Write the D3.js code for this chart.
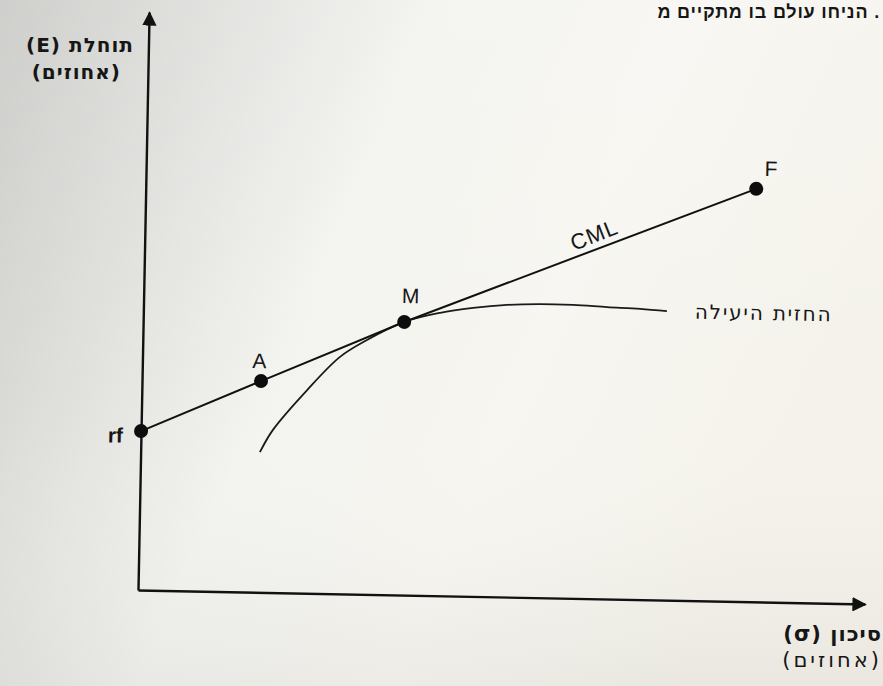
<!DOCTYPE html>
<html>
<head>
<meta charset="utf-8">
<script src="https://cdn.jsdelivr.net/npm/d3@7"></script>
<style>
  html, body { margin: 0; padding: 0; background: #efeeea; }
  svg { display: block; }
  text { font-family: "Liberation Sans", "DejaVu Sans", sans-serif; fill: #161616; }
  text.heb { font-family: "DejaVu Sans", "Liberation Sans", sans-serif; }
</style>
</head>
<body>
<div id="chart"></div>
<script>
// CML chart (capital market line + efficient frontier)
// values, sigma / E in arbitrary percent units

// straight line points: rf, A, M, F
const cmlNames = ["rf", "A", "M", "F"];
const cmlSigma = [0, 4.91, 10.77, 25.19];
const cmlE = [5.5, 7.31, 9.45, 14.29];

// efficient frontier
const frontSigma = [4.92, 5.44, 6.82, 8.15, 9.25, 10.77, 12.25, 13.6, 15.0, 16.36, 17.73, 19.13, 20.5, 21.6];
const frontE = [4.85, 5.63, 7.03, 8.2, 8.8, 9.45, 9.79, 9.98, 10.11, 10.16, 10.15, 10.1, 10.06, 10.0];

// texts
const yTitle = ["תוחלת (E)", "(אחוזים)"];
const xTitle = ["סיכון (σ)", "(אחוזים)"];
const frontLabel = "החזית היעילה";
const lineLabel = "CML";
const pageLine = ". הניחו עולם בו מתקיים מ";

// dimensions
const width = 883;
const height = 686;
const origin = {x: 138, y: 590};
const tilt = 1.1; // the page was photographed slightly rotated

const svg = d3.select("#chart")
    .append("svg")
    .attr("width", width)
    .attr("height", height);

// paper shading
const defs = svg.append("defs");
const grad = defs.append("linearGradient")
    .attr("id", "paper")
    .attr("x1", "0").attr("y1", "0").attr("x2", "1").attr("y2", "0.35");
[["0%", "#c6c6c3"], ["12%", "#d3d3d0"], ["30%", "#e5e5e2"], ["45%", "#f3f3ef"], ["70%", "#f7f6f1"], ["100%", "#f4f2ea"]]
    .forEach(s => grad.append("stop").attr("offset", s[0]).attr("stop-color", s[1]));
const shade = defs.append("linearGradient")
    .attr("id", "shade")
    .attr("x1", "0").attr("y1", "0").attr("x2", "0").attr("y2", "1");
shade.append("stop").attr("offset", "0%").attr("stop-color", "#ffffff").attr("stop-opacity", 0.15);
shade.append("stop").attr("offset", "60%").attr("stop-color", "#ffffff").attr("stop-opacity", 0);
shade.append("stop").attr("offset", "100%").attr("stop-color", "#9a9a96").attr("stop-opacity", 0.12);

svg.append("rect").attr("width", width).attr("height", height).attr("fill", "url(#paper)");
svg.append("rect").attr("width", width).attr("height", height).attr("fill", "url(#shade)");

// arrow heads
defs.append("marker")
    .attr("id", "arrow")
    .attr("viewBox", "0 0 10 10")
    .attr("refX", 9).attr("refY", 5)
    .attr("markerWidth", 6).attr("markerHeight", 6)
    .attr("markerUnits", "strokeWidth")
    .attr("orient", "auto")
    .append("path")
    .attr("d", "M0,0 L10,5 L0,10 Z")
    .attr("fill", "#111");

// line of page text above the figure
svg.append("text")
    .attr("x", 880)
    .attr("y", 18)
    .attr("direction", "rtl")
    .attr("text-anchor", "start")
    .attr("font-size", "18px")
    .attr("font-weight", "bold")
    .attr("letter-spacing", "0.8px")
    .text(pageLine);

// plot group, rotated round the origin
const g = svg.append("g")
    .attr("transform", `translate(${origin.x},${origin.y}) rotate(${tilt})`);

const x = d3.scaleLinear().domain([0, 30]).range([0, 727]);
const y = d3.scaleLinear().domain([0, 20]).range([0, -578]);

// axes (no ticks on the sketch)
const xAxis = g.append("g")
    .call(d3.axisBottom(x).ticks(0).tickSizeOuter(0));
const yAxis = g.append("g")
    .call(d3.axisLeft(y).ticks(0).tickSizeOuter(0));
[xAxis, yAxis].forEach(a => a.select(".domain")
    .attr("stroke", "#111")
    .attr("stroke-width", 2.4)
    .attr("marker-end", "url(#arrow)"));

// efficient frontier
const frontier = frontSigma.map((s, i) => ({s: s, e: frontE[i]}));
g.append("path")
    .datum(frontier)
    .attr("fill", "none")
    .attr("stroke", "#1a1a1a")
    .attr("stroke-width", 1.8)
    .attr("d", d3.line().x(d => x(d.s)).y(d => y(d.e)).curve(d3.curveCatmullRom.alpha(0.5)));

// CML
const cml = cmlSigma.map((s, i) => ({name: cmlNames[i], s: s, e: cmlE[i]}));
g.append("path")
    .datum(cml)
    .attr("fill", "none")
    .attr("stroke", "#111")
    .attr("stroke-width", 2)
    .attr("d", d3.line().x(d => x(d.s)).y(d => y(d.e)));

g.selectAll("circle.pt")
    .data(cml)
    .join("circle")
    .attr("class", "pt")
    .attr("cx", d => x(d.s))
    .attr("cy", d => y(d.e))
    .attr("r", 7)
    .attr("fill", "#0d0d0d");

// point labels
const labelOff = {
    rf: {dx: -18, dy: 12, anchor: "end"},
    A: {dx: -2, dy: -13, anchor: "middle"},
    M: {dx: 6, dy: -19, anchor: "middle"},
    F: {dx: 8, dy: -13, anchor: "start"}
};
g.selectAll("text.pt")
    .data(cml)
    .join("text")
    .attr("class", "pt")
    .attr("x", d => x(d.s) + labelOff[d.name].dx)
    .attr("y", d => y(d.e) + labelOff[d.name].dy)
    .attr("text-anchor", d => labelOff[d.name].anchor)
    .attr("font-size", "21px")
    .attr("font-weight", d => d.name === "rf" ? "bold" : "normal")
    .text(d => d.name);

// CML label along the line
const last = cml[cml.length - 1], first = cml[0];
const angle = Math.atan2(y(last.e) - y(first.e), x(last.s) - x(first.s)) * 180 / Math.PI;
const ls = 18.8;
const le = first.e + (last.e - first.e) * ls / last.s;
g.append("text")
    .attr("transform", `translate(${x(ls)},${y(le)}) rotate(${angle}) translate(0,-9)`)
    .attr("text-anchor", "middle")
    .attr("font-size", "22px")
    .attr("letter-spacing", "1px")
    .text(lineLabel);

// frontier label
const fEnd = frontier[frontier.length - 1];
g.append("text")
    .attr("class", "heb")
    .attr("x", x(fEnd.s) + 28)
    .attr("y", y(fEnd.e) + 7)
    .attr("direction", "rtl")
    .attr("text-anchor", "end")
    .attr("font-size", "20px")
    .attr("letter-spacing", "1.8px")
    .text(frontLabel);

// axis titles (screen coordinates)
svg.selectAll("text.ytitle")
    .data(yTitle)
    .join("text")
    .attr("class", "ytitle heb")
    .attr("x", (d, i) => i === 0 ? 134 : 121)
    .attr("y", (d, i) => i === 0 ? 52 : 79)
    .attr("direction", "rtl")
    .attr("text-anchor", "start")
    .attr("font-size", "20px")
    .attr("font-weight", "bold")
    .attr("letter-spacing", "1px")
    .text(d => d);

svg.selectAll("text.xtitle")
    .data(xTitle)
    .join("text")
    .attr("class", "xtitle heb")
    .attr("x", 882)
    .attr("y", (d, i) => i === 0 ? 641 : 667)
    .attr("direction", "rtl")
    .attr("text-anchor", "start")
    .attr("font-size", "21px")
    .attr("font-weight", (d, i) => i === 0 ? "bold" : "normal")
    .attr("letter-spacing", (d, i) => i === 0 ? "1px" : "3px")
    .text(d => d);
</script>
</body>
</html>
